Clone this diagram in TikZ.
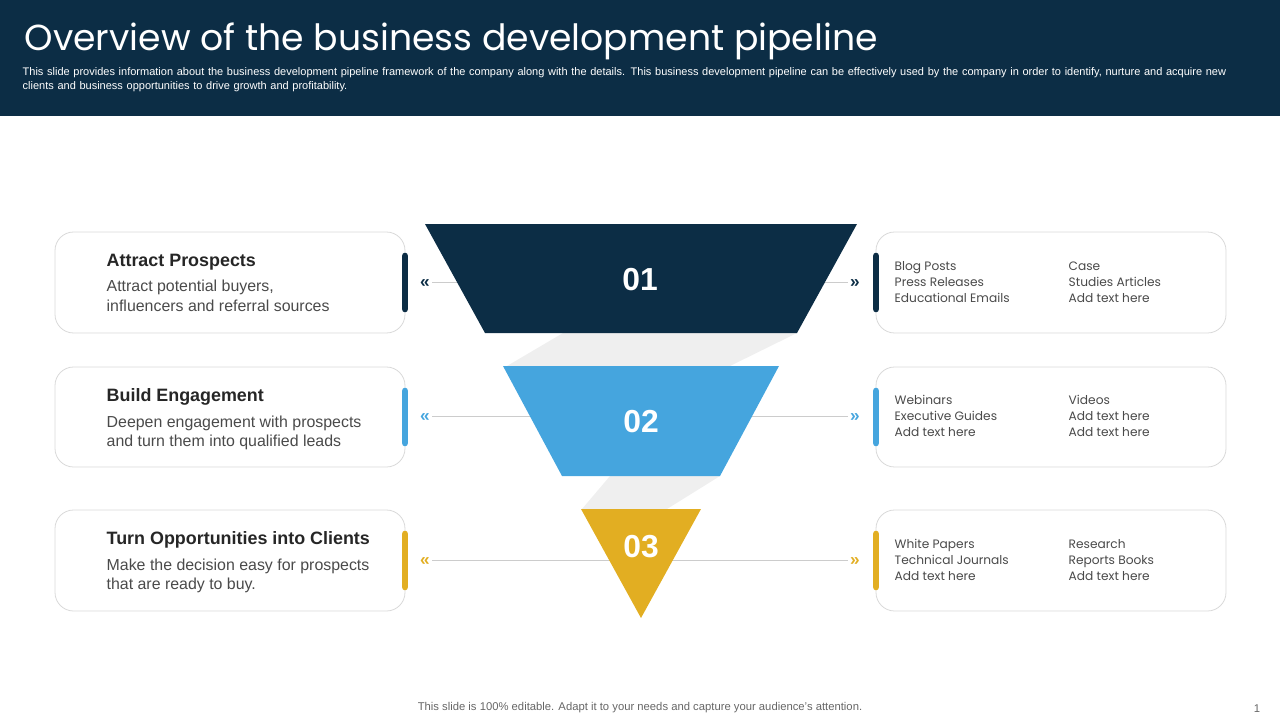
\documentclass[tikz,border=0pt]{standalone}
\usepackage{fontspec}
\setmainfont{Liberation Sans}
\newfontfamily\titlefont{Poppins}
\usetikzlibrary{positioning}

\definecolor{navy}{HTML}{0C2D45}
\definecolor{skyblue}{HTML}{45A5DE}
\definecolor{gold}{HTML}{E2AE22}
\definecolor{band}{HTML}{EFEFEF}
\definecolor{txtgray}{HTML}{4A4A4A}

\begin{document}
\begin{tikzpicture}[x=0.0265cm, y=-0.0265cm,
  card/.style={draw=black!15, line width=0.6pt, rounded corners=14pt, fill=white},
  bar/.style={line width=5pt, line cap=round},
  link/.style={draw=black!20, line width=0.6pt},
  head/.style={anchor=north west, font=\fontsize{13.5}{16}\selectfont\bfseries, text=black!85},
  desc/.style={anchor=north west, align=left, font=\fontsize{12}{14.5}\selectfont, text=txtgray},
  item/.style={anchor=north west, align=left, font=\titlefont\fontsize{9.2}{12}\selectfont, text=txtgray},
  num/.style={font=\fontsize{24}{26}\selectfont\bfseries, text=white},
  chev/.style={font=\fontsize{13}{13}\selectfont\bfseries}]
  \useasboundingbox (0,0) rectangle (1280,720);

  % Header
  \fill[navy] (0,0) rectangle (1280,116);
  \node[anchor=base west, text=white, font=\titlefont\fontsize{27.3}{30}\selectfont] (title) at (20,50) {Overview of the business development pipeline};
  \node[anchor=north west, text=white, text width=1228*0.0265cm, align=left, font=\fontsize{8.3}{10.5}\selectfont] (intro) at (18,63) {This slide provides information about the business development pipeline framework of the company along with the details. This business development pipeline can be effectively used by the company in order to identify, nurture and acquire new clients and business opportunities to drive growth and profitability.};

  % Funnel
  \fill[band] (563,333) -- (797,333) -- (730,366) -- (507,366) -- cycle;
  \fill[band] (610,476) -- (720,476) -- (667,509) -- (582,509) -- cycle;

  % Cards
  \foreach \y/\h/\c in {232/333/navy, 367/467/skyblue, 510/611/gold} {
    \draw[card] (55,\y) rectangle (405,\h);
    \draw[card] (876,\y) rectangle (1226,\h);
    \draw[bar, \c] (405,\y+24) -- (405,\h-24);
    \draw[bar, \c] (876,\y+24) -- (876,\h-24);
  }

  % Links
  \coordinate (l1) at (432,282); \coordinate (r1) at (848,282);
  \coordinate (l2) at (432,416); \coordinate (r2) at (848,416);
  \coordinate (l3) at (432,560); \coordinate (r3) at (848,560);
  \draw[link] (l1) -- (r1);
  \draw[link] (l2) -- (r2);
  \draw[link] (l3) -- (r3);
  \node[chev, text=navy] (cl1) at (425,284) {«};
  \node[chev, text=navy] (cr1) at (855,284) {»};
  \node[chev, text=skyblue] (cl2) at (425,418) {«};
  \node[chev, text=skyblue] (cr2) at (855,418) {»};
  \node[chev, text=gold] (cl3) at (425,562) {«};
  \node[chev, text=gold] (cr3) at (855,562) {»};

  \fill[navy] (425,224) -- (857,224) -- (797,333) -- (485,333) -- cycle;
  \fill[skyblue] (503,366) -- (779,366) -- (720,476) -- (562,476) -- cycle;
  \fill[gold] (581,509) -- (701,509) -- (641,618) -- cycle;
  \node[num] (n1) at (640,280) {01};
  \node[num] (n2) at (641,422) {02};
  \node[num] (n3) at (641,547) {03};

  % Left texts
  \node[head] (h1) at (102,249) {Attract Prospects};
  \node[desc, below=1pt of h1.south west, anchor=north west] (d1) {Attract potential buyers,\\influencers and referral sources};
  \node[head] (h2) at (102,384) {Build Engagement};
  \node[desc, below=1pt of h2.south west, anchor=north west] (d2) {Deepen engagement with prospects\\and turn them into qualified leads};
  \node[head] (h3) at (102,527) {Turn Opportunities into Clients};
  \node[desc, below=1pt of h3.south west, anchor=north west] (d3) {Make the decision easy for prospects\\that are ready to buy.};

  % Right texts
  \node[item] (a1) at (890,257) {Blog Posts\\Press Releases\\Educational Emails};
  \node[item] (b1) at (1064,257) {Case\\Studies Articles\\Add text here};
  \node[item] (a2) at (890,391) {Webinars\\Executive Guides\\Add text here};
  \node[item] (b2) at (1064,391) {Videos\\Add text here\\Add text here};
  \node[item] (a3) at (890,535) {White Papers\\Technical Journals\\Add text here};
  \node[item] (b3) at (1064,535) {Research\\Reports Books\\Add text here};

  % Footer
  \node[text=black!60, font=\fontsize{8.5}{10}\selectfont] (foot) at (640,708) {This slide is 100\% editable. Adapt it to your needs and capture your audience's attention.};
  \node[text=black!60, font=\fontsize{8.5}{10}\selectfont] (page) at (1257,709) {1};
\end{tikzpicture}
\end{document}
